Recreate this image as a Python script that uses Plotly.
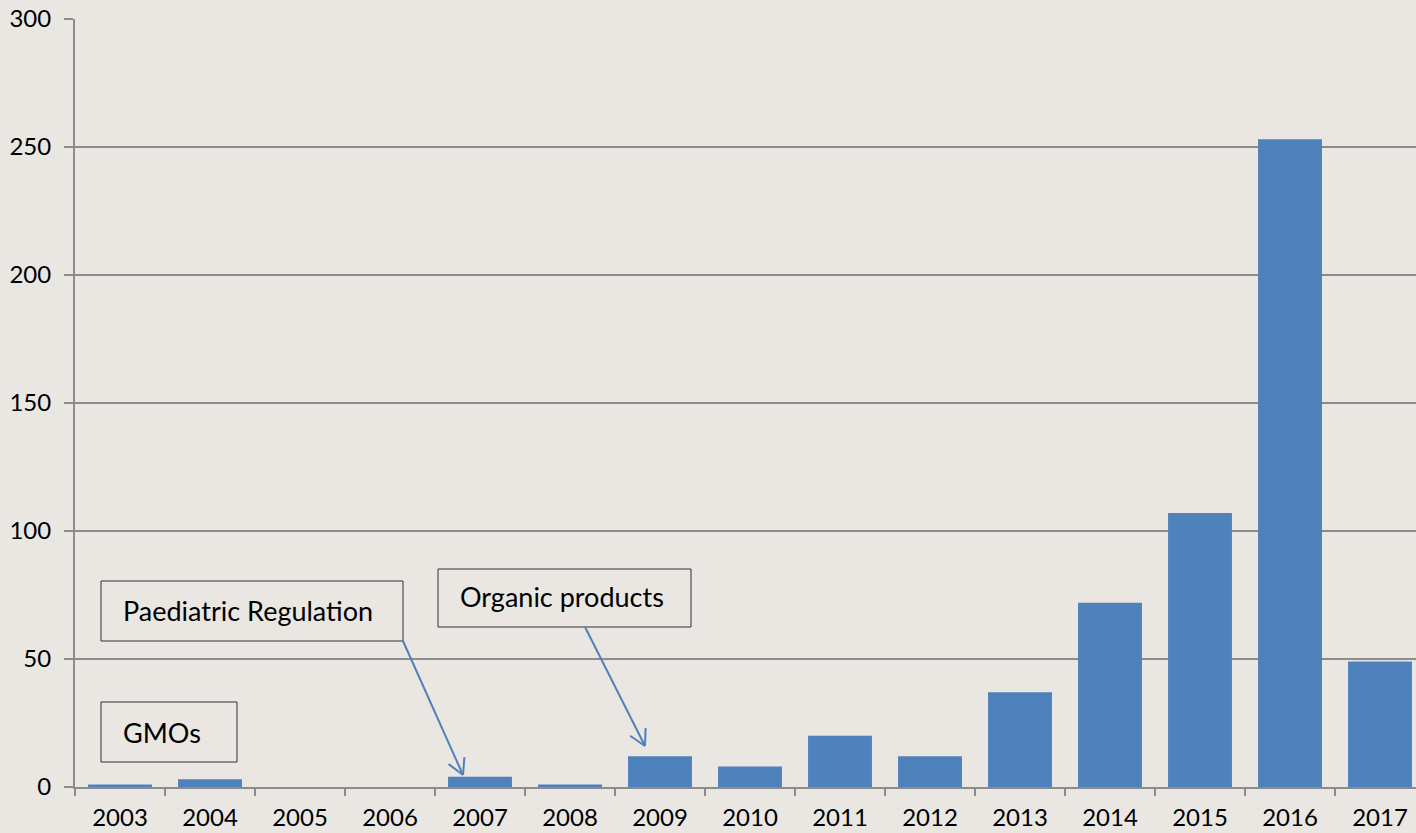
import math
import plotly.graph_objects as go

# ---- data ----
years = ["2003", "2004", "2005", "2006", "2007", "2008", "2009", "2010",
         "2011", "2012", "2013", "2014", "2015", "2016", "2017"]
counts = [1, 3, 0, 0, 4, 1, 12, 8, 20, 12, 37, 72, 107, 253, 49]
y_ticks = [0, 50, 100, 150, 200, 250, 300]
notes = ["GMOs", "Paediatric Regulation", "Organic products"]

# ---- layout geometry (pixels, page coordinates) ----
W, H = 1416, 833
L, R, T, B = 75, 1416, 19, 787
CAT_W = 90.0
X0 = -0.5
X1 = X0 + (R - L) / CAT_W
YMAX = 300


def px_x(p):
    return X0 + (p - L) / CAT_W


def px_y(p):
    return (B - p) / (B - T) * YMAX


BG = "#EAE6E1"
BAR = "#4F81BD"
GRID = "#8C8C8C"
FONT = "Lato, Carlito, Calibri, sans-serif"

fig = go.Figure()
fig.add_trace(go.Bar(x=years, y=counts, marker=dict(color=BAR, line=dict(width=0)),
                     width=0.71, hoverinfo="x+y"))

shapes = []
annotations = []

# note boxes: (x0, y0, x1, y1) in pixels
boxes = [(101, 702, 237, 762), (101, 581, 403, 641), (438, 569, 691, 627)]
text_x = [121, 121, 458]
text_y = [732, 610, 596]
for (bx0, by0, bx1, by1), txt, tx, ty in zip(boxes, notes, text_x, text_y):
    shapes.append(dict(type="rect", xref="x", yref="y",
                       x0=px_x(bx0), x1=px_x(bx1), y0=px_y(by1), y1=px_y(by0),
                       line=dict(color="#333333", width=1), fillcolor="rgba(0,0,0,0)",
                       layer="above"))
    annotations.append(dict(x=px_x(tx), y=px_y(ty), xref="x", yref="y",
                            xanchor="left", yanchor="middle", text=txt, showarrow=False,
                            font=dict(family=FONT, size=27, color="#000000")))

# arrows: tail -> tip (pixels)
arrows = [((403, 641), (463, 775)), ((585, 627), (645, 746))]
for (tx, ty), (hx, hy) in arrows:
    shapes.append(dict(type="line", xref="x", yref="y",
                       x0=px_x(tx), y0=px_y(ty), x1=px_x(hx), y1=px_y(hy),
                       line=dict(color=BAR, width=2), layer="above"))
    ang = math.atan2(ty - hy, tx - hx)
    for d in (0.5, -0.5):
        wx = hx + 18 * math.cos(ang + d)
        wy = hy + 18 * math.sin(ang + d)
        shapes.append(dict(type="line", xref="x", yref="y",
                           x0=px_x(hx), y0=px_y(hy), x1=px_x(wx), y1=px_y(wy),
                           line=dict(color=BAR, width=2), layer="above"))

fig.update_layout(
    width=W, height=H,
    margin=dict(l=L, r=W - R, t=T, b=H - B, pad=0),
    paper_bgcolor=BG, plot_bgcolor=BG,
    showlegend=False,
    bargap=0.29,
    shapes=shapes,
    annotations=annotations,
    font=dict(family=FONT, size=24, color="#000000"),
    xaxis=dict(type="category", range=[X0, X1], tickson="boundaries",
               ticks="outside", ticklen=7, tickwidth=2, tickcolor=GRID,
               showline=True, linecolor=GRID, linewidth=2, showgrid=False,
               ticklabelstandoff=8, ticklabeloverflow="allow",
               tickfont=dict(family=FONT, size=24, color="#000000"),
               fixedrange=True),
    yaxis=dict(range=[0, YMAX], tickvals=y_ticks, ticks="outside", ticklen=9,
               tickwidth=2, tickcolor=GRID, showline=True, linecolor=GRID, linewidth=2,
               showgrid=True, gridcolor=GRID, gridwidth=2, zeroline=False,
               ticklabelstandoff=8, ticklabeloverflow="allow",
               tickfont=dict(family=FONT, size=24, color="#000000"),
               fixedrange=True),
)

fig.write_html(
    "out.html",
    config={"displayModeBar": False},
    post_script="document.body.style.margin='0';document.body.style.overflow='hidden';",
)
